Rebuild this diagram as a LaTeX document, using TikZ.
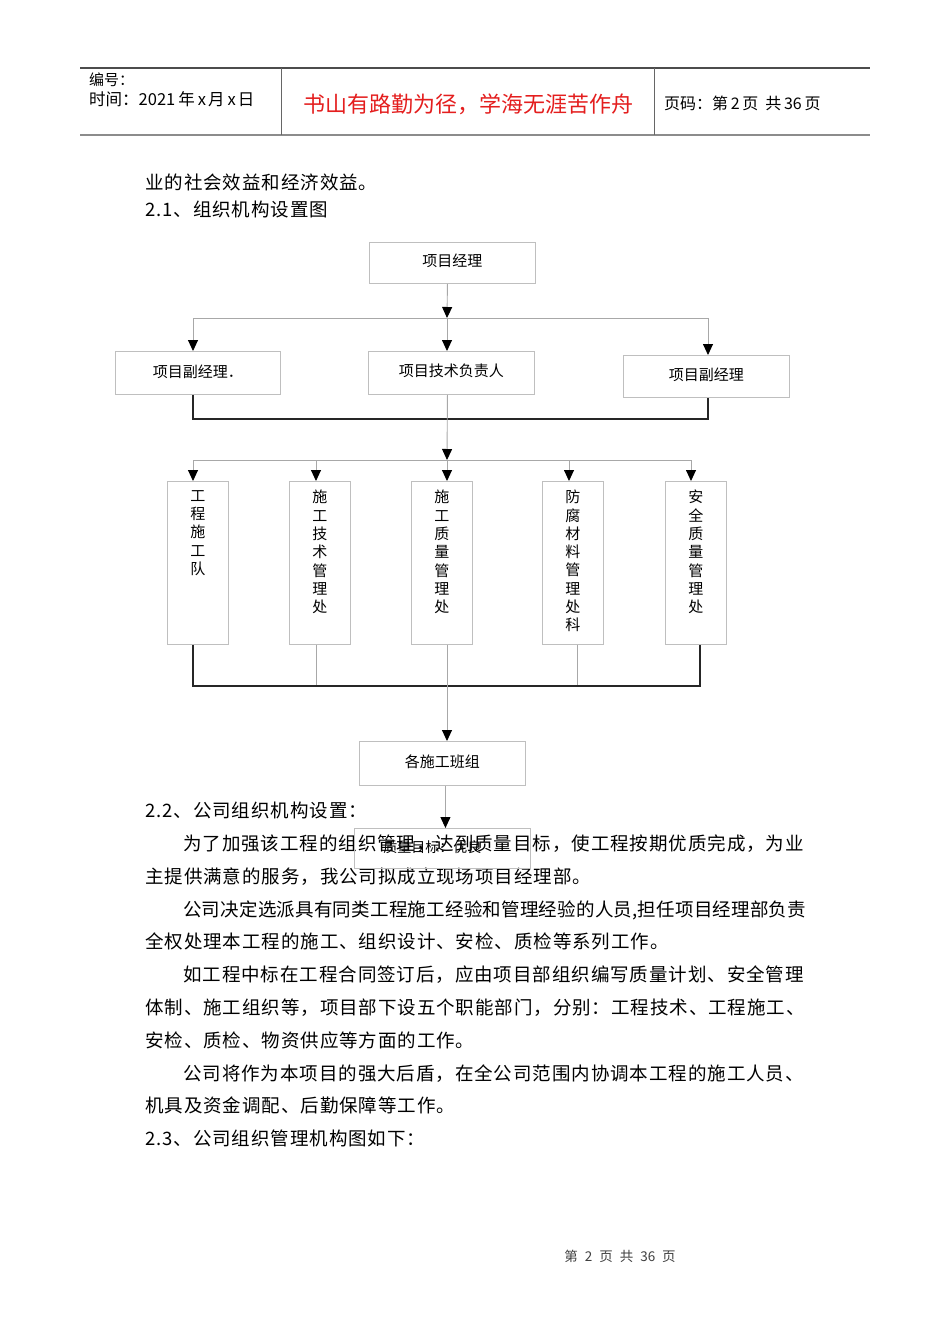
\documentclass[tikz,border=0pt]{standalone}
\usepackage{fontspec}
\setmainfont{Noto Sans CJK SC}
\newfontfamily\bodyfont{Noto Sans CJK SC}[LetterSpace=5]
\newfontfamily\bodyfontnarrow{Noto Sans CJK SC}[LetterSpace=1.2]
\usetikzlibrary{arrows.meta}
\definecolor{boxgray}{HTML}{BFBFBF}
\definecolor{linegray}{HTML}{A8A8A8}
\definecolor{hdrred}{HTML}{E41E1E}
\tikzset{
  box/.style={draw=boxgray, line width=0.9pt, rectangle, inner sep=0pt, anchor=north west, font=\fontsize{15}{15}\selectfont},
  vtext/.style={anchor=north, inner sep=0pt, align=center, font=\fontsize{15}{18.3}\selectfont},
  gl/.style={draw=linegray, line width=0.9pt},
  bl/.style={draw=black!85, line width=1.8pt},
  arr/.style={-{Triangle[width=10pt,length=11pt,color=black]}},
  body/.style={anchor=base west, inner sep=0pt, font=\bodyfont\fontsize{18.5}{18.5}\selectfont},
  bodynarrow/.style={body, font=\bodyfontnarrow\fontsize{18.5}{18.5}\selectfont},
  hdrtxt/.style={anchor=west, inner sep=0pt}
}
\begin{document}
\begin{tikzpicture}[x=1pt,y=-1pt]
\useasboundingbox (0,0) rectangle (950,1344);
\fill[white] (0,0) rectangle (950,1344);

% ---------- header ----------
\draw[draw=black!70, line width=1.1pt] (80,68) -- (870,68);
\draw[draw=black!45, line width=2pt] (80,135) -- (870,135);
\draw[draw=black!60, line width=1pt] (281,68) -- (281,135);
\draw[draw=black!60, line width=1pt] (654,68) -- (654,135);
\node[hdrtxt, font=\fontsize{15}{15}\selectfont] (hno) at (89,80) {编号：};
\node[hdrtxt, font=\fontsize{16.5}{16.5}\selectfont] (htime) at (89,99) {时间：2021\hspace{3pt}年\hspace{3pt}x\hspace{2pt}月\hspace{3pt}x\hspace{2pt}日};
\node[anchor=center, inner sep=0pt, text=hdrred, font=\fontsize{22}{22}\selectfont] (hmotto) at (468,104) {书山有路勤为径，学海无涯苦作舟};
\node[hdrtxt, font=\fontsize{16}{16}\selectfont] (hpage) at (664,103) {页码：第\,2\,页\hspace{7pt}共\,36\,页};

% ---------- body text ----------
\node[body] (t1) at (145,189) {业的社会效益和经济效益。};
\node[body] (t2) at (145,216) {2.1、组织机构设置图};
\node[body] (t3) at (145,817) {2.2、公司组织机构设置：};
\node[body] (p1) at (183,850) {为了加强该工程的组织管理，达到质量目标，使工程按期优质完成，为业};
\node[body] (p2) at (145,883) {主提供满意的服务，我公司拟成立现场项目经理部。};
\node[bodynarrow] (p3) at (183,916) {公司决定选派具有同类工程施工经验和管理经验的人员,担任项目经理部负责};
\node[body] (p4) at (145,948) {全权处理本工程的施工、组织设计、安检、质检等系列工作。};
\node[body] (p5) at (183,981) {如工程中标在工程合同签订后，应由项目部组织编写质量计划、安全管理};
\node[body] (p6) at (145,1014) {体制、施工组织等，项目部下设五个职能部门，分别：工程技术、工程施工、};
\node[body] (p7) at (145,1047) {安检、质检、物资供应等方面的工作。};
\node[body] (p8) at (183,1080) {公司将作为本项目的强大后盾，在全公司范围内协调本工程的施工人员、};
\node[body] (p9) at (145,1112) {机具及资金调配、后勤保障等工作。};
\node[body] (p10) at (145,1145) {2.3、公司组织管理机构图如下：};

% ---------- chart: level 0 ----------
\node[box, minimum width=166, minimum height=41] (pm) at (369,242) {\raisebox{5pt}{项目经理}};

% ---------- level 1 ----------
\node[box, minimum width=165, minimum height=43] (a1) at (115,351) {\raisebox{4pt}{项目副经理．}};
\node[box, minimum width=166, minimum height=43] (a2) at (368,351) {\raisebox{6pt}{项目技术负责人}};
\node[box, minimum width=166, minimum height=42] (a3) at (623,355) {\raisebox{4pt}{项目副经理}};

\coordinate (j1) at (447,318);
\coordinate (j1l) at (193,318);
\coordinate (j1r) at (708,318);
\draw[gl, arr] ([xshift=-5pt]pm.south) -- (j1);
\draw[gl] (j1l) -- (j1r);
\draw[gl, arr] (j1l) -- (j1l |- a1.north);
\draw[gl, arr] (j1) -- (j1 |- a2.north);
\draw[gl, arr] (j1r) -- (j1r |- a3.north);

% merge of level 1
\coordinate (m1l) at (193,419);
\coordinate (m1r) at (708,419);
\draw[bl] (m1l |- a1.south) -- (m1l) -- (m1r) -- (m1r |- a3.south);

% ---------- level 2 ----------
\node[box, minimum width=61, minimum height=163] (b1) at (167,481) {};
\node[box, minimum width=61, minimum height=163] (b2) at (289,481) {};
\node[box, minimum width=61, minimum height=163] (b3) at (411,481) {};
\node[box, minimum width=61, minimum height=163] (b4) at (542,481) {};
\node[box, minimum width=61, minimum height=163] (b5) at (665,481) {};
\node[vtext] (b1t) at ([yshift=-9pt]b1.north) {工\\程\\施\\工\\队};
\node[vtext] (b2t) at ([yshift=-9pt]b2.north) {施\\工\\技\\术\\管\\理\\处};
\node[vtext] (b3t) at ([yshift=-9pt]b3.north) {施\\工\\质\\量\\管\\理\\处};
\node[vtext] (b4t) at ([yshift=-9pt]b4.north) {防\\腐\\材\\料\\管\\理\\处\\科};
\node[vtext] (b5t) at ([yshift=-9pt]b5.north) {安\\全\\质\\量\\管\\理\\处};

\coordinate (j2) at (447,460);
\coordinate (j2a) at (193,460);
\coordinate (j2b) at (316,460);
\coordinate (j2d) at (569,460);
\coordinate (j2e) at (691,460);
\draw[gl, arr] ([xshift=-4pt]a2.south) -- (j2);
\draw[gl] (j2a) -- (j2e);
\draw[gl, arr] (j2a) -- (j2a |- b1.north);
\draw[gl, arr] (j2b) -- (j2b |- b2.north);
\draw[gl, arr] (j2) -- (j2 |- b3.north);
\draw[gl, arr] (j2d) -- (j2d |- b4.north);
\draw[gl, arr] (j2e) -- (j2e |- b5.north);

% merge of level 2
\coordinate (m2a) at (193,686);
\coordinate (m2b) at (316,686);
\coordinate (m2c) at (447,686);
\coordinate (m2d) at (577,686);
\coordinate (m2e) at (700,686);
\draw[gl] (m2b |- b2.south) -- (m2b);
\draw[gl] (m2d |- b4.south) -- (m2d);
\draw[bl] (m2a |- b1.south) -- (m2a) -- (m2e) -- (m2e |- b5.south);

% ---------- level 3 ----------
\node[box, minimum width=166, minimum height=44] (c1) at (359,741) {\raisebox{5pt}{各施工班组}};
\draw[gl, arr] (m2c |- b3.south) -- (m2c |- c1.north);

\node[box, minimum width=176, minimum height=40, font=\fontsize{14}{14}\selectfont] (d1) at (354,828) {\hspace*{-20pt}\raisebox{3pt}{质量目标：优良}};
\draw[gl, arr] ([xshift=3pt]c1.south) -- ([xshift=3pt]c1.south |- d1.north);

% ---------- footer ----------
\node[anchor=center, inner sep=0pt, text=black!75, font=\fontsize{13.5}{13.5}\selectfont] (foot) at (620,1256) {第\hspace{7pt}2\hspace{7pt}页\hspace{7pt}共\hspace{7pt}36\hspace{7pt}页};
\end{tikzpicture}
\end{document}
